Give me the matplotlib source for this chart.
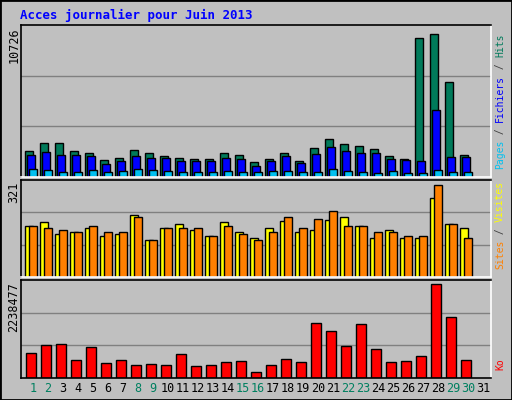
import matplotlib
matplotlib.use("Agg")
import matplotlib.pyplot as plt

days = list(range(1, 32))
hits = [1862, 2499, 2499, 1862, 1721, 1226, 1367, 1933, 1721, 1509, 1367, 1296, 1296, 1721, 1579,
        1084, 1296, 1721, 1155, 2074, 2781, 2428, 2216, 2004, 1509, 1296, 10065, 10419, 6883, 1579]
files = [1579, 1791, 1579, 1579, 1509, 943, 1155, 1509, 1367, 1367, 1155, 1155, 1155, 1367, 1296,
         801, 1155, 1509, 1013, 1650, 2145, 1862, 1721, 1721, 1296, 1226, 1155, 4903, 1438, 1438]
pages = [589, 519, 377, 377, 519, 377, 448, 589, 519, 448, 377, 377, 377, 448, 377,
         377, 448, 448, 377, 377, 589, 448, 377, 306, 448, 306, 306, 519, 377, 377]
visits = [176, 190, 151, 158, 172, 141, 151, 217, 127, 169, 183, 165, 141, 190, 158,
          134, 172, 193, 158, 162, 197, 207, 176, 137, 162, 137, 137, 273, 183, 172]
sites = [176, 172, 162, 158, 176, 158, 158, 207, 130, 172, 172, 172, 141, 176, 148,
         127, 158, 210, 169, 200, 231, 179, 176, 158, 158, 144, 141, 321, 186, 137]
kbytes = [596000, 793000, 817000, 425000, 743000, 351000, 425000, 302000, 327000, 302000,
          572000, 278000, 302000, 376000, 400000, 131000, 302000, 449000, 376000, 1307000,
          1111000, 768000, 1283000, 694000, 376000, 400000, 523000, 2238477, 1454000, 425000]
weekend = {1, 2, 8, 9, 15, 16, 22, 23, 29, 30}

W, H = 512, 400
BG = "#c0c0c0"
C_HITS, C_FILES, C_PAGES = "#007a5a", "#0000ff", "#00c0f0"
C_VIS, C_SITES, C_KO = "#ffff00", "#ff8000", "#ff0000"
GREEN = "#008060"
MONO = "DejaVu Sans Mono"

fig = plt.figure(figsize=(W / 100, H / 100), dpi=100, facecolor=BG)
fig.patches.append(plt.Rectangle((0, 0), 1, 1, transform=fig.transFigure, fill=False,
                                 edgecolor="black", linewidth=2))


def panel(y0, y1):
    ax = fig.add_axes([21 / W, 1 - y1 / H, (491 - 21) / W, (y1 - y0) / H])
    ax.set_facecolor(BG)
    ax.set_xlim(21, 491)
    ax.set_xticks([])
    ax.set_yticks([])
    ax.spines["top"].set_color("black")
    ax.spines["left"].set_color("black")
    ax.spines["right"].set_color("white")
    ax.spines["bottom"].set_color("white")
    for s in ax.spines.values():
        s.set_linewidth(1.2)
    return ax


def grid(ax, top):
    for f in (1 / 3, 2 / 3):
        ax.axhline(top * f, color="#808080", linewidth=1, zorder=0)
    ax.set_ylim(0, top)


def stacked_label(ax, parts, x):
    # draw rotated multicolour text bottom-to-top
    r = fig.canvas.get_renderer()
    y = ax.get_position().y0 + 0.02
    for txt, col in parts:
        t = fig.text(x, y, txt, rotation=90, color=col, family=MONO, fontsize=7,
                     ha="center", va="bottom")
        bb = t.get_window_extent(r)
        y += bb.height / H


xs = [25 + 15 * (d - 1) for d in days[:30]]

# top panel
ax1 = panel(25, 177)
grid(ax1, 10726 * 455 / 442)
ax1.bar(xs, hits, width=7.5, align="edge", color=C_HITS, edgecolor="black", linewidth=1)
ax1.bar([x + 2 for x in xs], files, width=7.5, align="edge", color=C_FILES, edgecolor="black", linewidth=1)
ax1.bar([x + 4 for x in xs], pages, width=7.5, align="edge", color=C_PAGES, edgecolor="black", linewidth=1)

# middle panel
ax2 = panel(180, 277)
grid(ax2, 321 * 290 / 276)
ax2.bar(xs, visits, width=7.5, align="edge", color=C_VIS, edgecolor="black", linewidth=1)
ax2.bar([x + 4 for x in xs], sites, width=7.5, align="edge", color=C_SITES, edgecolor="black", linewidth=1)

# bottom panel
ax3 = panel(280, 378)
grid(ax3, 2238477 * 285 / 274)
ax3.bar([x + 1 for x in xs], kbytes, width=10, align="edge", color=C_KO, edgecolor="black", linewidth=1)
ax3.spines["bottom"].set_color("black")

fig.text(20 / W, 1 - 15 / H, "Acces journalier pour Juin 2013", color="#0000ff", family=MONO,
         fontsize=9, fontweight="bold", va="center", ha="left")

for ax, lab in ((ax1, "10726"), (ax2, "321"), (ax3, "2238477")):
    fig.text(14 / W, ax.get_position().y1 - 2 / H, lab, rotation=90, family=MONO, fontsize=8.5,
             ha="center", va="top", color="black")

for d in days:
    fig.text((33 + 15 * (d - 1)) / W, 1 - 389 / H, str(d), family=MONO, fontsize=8.5,
             ha="center", va="center", color=GREEN if d in weekend else "black")

stacked_label(ax1, [("Pages", C_PAGES), (" / ", "#404040"), ("Fichiers", C_FILES),
                    (" / ", "#404040"), ("Hits", C_HITS)], 500 / W)
stacked_label(ax2, [("Sites", C_SITES), (" / ", "#404040"), ("Visites", C_VIS)], 500 / W)
stacked_label(ax3, [("Ko", C_KO)], 500 / W)

fig.savefig("out.png", dpi=100, facecolor=BG)
